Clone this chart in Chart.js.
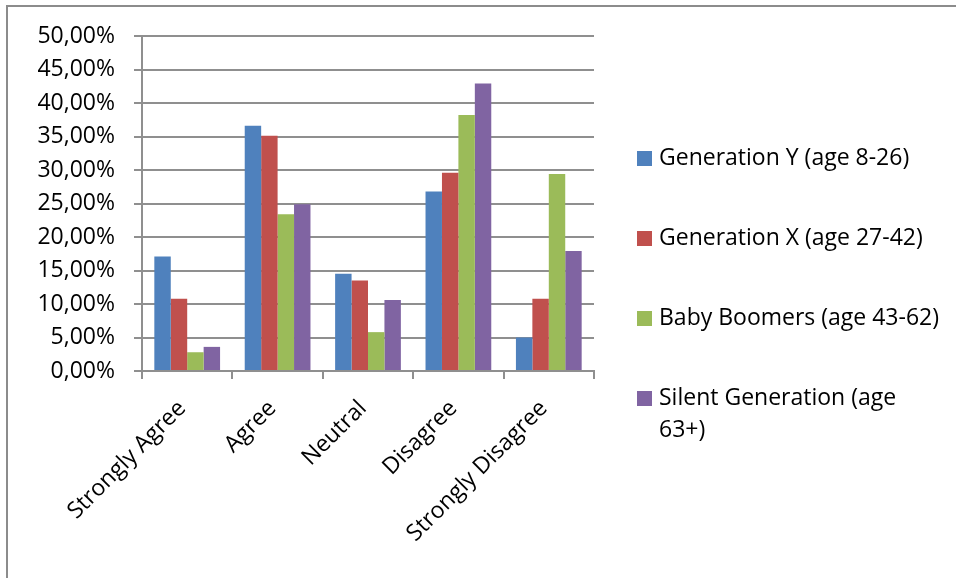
<!DOCTYPE html>
<html>
<head>
<meta charset="utf-8">
<title>Generations survey</title>
<script src="https://cdn.jsdelivr.net/npm/chart.js@4.4.1/dist/chart.umd.min.js"></script>
<style>
  html, body { margin: 0; padding: 0; background: #fff; }
  #wrap { position: relative; width: 956px; height: 578px; }
  canvas { display: block; }
</style>
</head>
<body>
<div id="wrap"><canvas id="survey-chart" width="956" height="578"></canvas></div>
<script>
// answers and age groups
const categories = ['Strongly Agree', 'Agree', 'Neutral', 'Disagree', 'Strongly Disagree'];
const seriesNames = [
    'Generation Y (age 8-26)',
    'Generation X (age 27-42)',
    'Baby Boomers (age 43-62)',
    'Silent Generation (age 63+)'
];
const seriesColors = ['#4F81BD', '#C0504D', '#9BBB59', '#8064A2'];

// percent of each group
const genY = [17.1, 36.6, 14.5, 26.8, 5.0];
const genX = [10.8, 35.1, 13.5, 29.6, 10.8];
const boomers = [2.8, 23.4, 5.8, 38.2, 29.4];
const silent = [3.6, 24.9, 10.6, 42.9, 17.9];

const yTicks = [0, 5, 10, 15, 20, 25, 30, 35, 40, 45, 50];

const FONT = '"Open Sans", Lato, sans-serif';
const FONT_SIZE = 23;
const GRID = '#8f8f8f';

function pct(v) {
    return v.toFixed(2).replace('.', ',') + '%';
}

// split a legend label so it fits the space on the right
function wrapText(ctx, text, maxWidth) {
    const words = text.split(' ');
    const lines = [];
    let line = '';
    words.forEach(w => {
        const test = line ? line + ' ' + w : w;
        if (ctx.measureText(test).width > maxWidth && line) {
            lines.push(line);
            line = w;
        } else {
            line = test;
        }
    });
    if (line) lines.push(line);
    return lines;
}

const sideLegend = {
    id: 'sideLegend',
    afterDraw(chart) {
        const ctx = chart.ctx;
        ctx.save();
        ctx.font = FONT_SIZE + 'px ' + FONT;
        ctx.textBaseline = 'middle';
        ctx.textAlign = 'left';
        chart.data.datasets.forEach((ds, i) => {
            const cy = 158 + i * 80;
            ctx.fillStyle = ds.backgroundColor;
            ctx.fillRect(637, cy - 7, 15, 15);
            ctx.fillStyle = '#000';
            const lines = wrapText(ctx, ds.label, 284);
            lines.forEach((l, j) => ctx.fillText(l, 659, cy + j * 32));
        });
        ctx.restore();
    }
};

// frame lines along the top and left edge
const frame = {
    id: 'frame',
    beforeDraw(chart) {
        const ctx = chart.ctx;
        ctx.save();
        ctx.strokeStyle = '#8c8c8c';
        ctx.lineWidth = 2;
        ctx.beginPath();
        ctx.moveTo(7, 578);
        ctx.lineTo(7, 6);
        ctx.lineTo(956, 6);
        ctx.stroke();
        ctx.restore();
    }
};

const datasets = [genY, genX, boomers, silent].map((vals, i) => ({
    label: seriesNames[i],
    data: vals,
    backgroundColor: seriesColors[i],
    borderWidth: 0,
    barPercentage: 1.0,
    categoryPercentage: 4 / 5.5
}));

const ctx = document.getElementById('survey-chart').getContext('2d');
new Chart(ctx, {
    type: 'bar',
    data: { labels: categories, datasets: datasets },
    plugins: [frame, sideLegend],
    options: {
        responsive: false,
        devicePixelRatio: 1,
        animation: false,
        layout: { padding: { left: 0, top: 36, right: 362, bottom: 0 } },
        plugins: {
            legend: { display: false },
            tooltip: { enabled: false }
        },
        scales: {
            x: {
                afterFit: scale => { scale.height = 207; },
                grid: {
                    offset: true,
                    drawOnChartArea: false,
                    drawTicks: true,
                    tickLength: 8,
                    color: GRID,
                    lineWidth: 2
                },
                border: { color: GRID, width: 2 },
                ticks: {
                    color: '#000',
                    font: { family: FONT, size: FONT_SIZE },
                    minRotation: 45,
                    maxRotation: 45,
                    padding: 16,
                    labelOffset: -5
                }
            },
            y: {
                min: 0,
                max: 50,
                afterFit: scale => { scale.width = 142; },
                afterBuildTicks: scale => {
                    scale.ticks = yTicks.map(v => ({ value: v }));
                },
                grid: {
                    color: GRID,
                    lineWidth: 2,
                    tickLength: 8
                },
                border: { color: GRID, width: 2 },
                ticks: {
                    color: '#000',
                    font: { family: FONT, size: FONT_SIZE },
                    padding: 19,
                    callback: v => pct(v)
                }
            }
        }
    }
});
</script>
</body>
</html>
